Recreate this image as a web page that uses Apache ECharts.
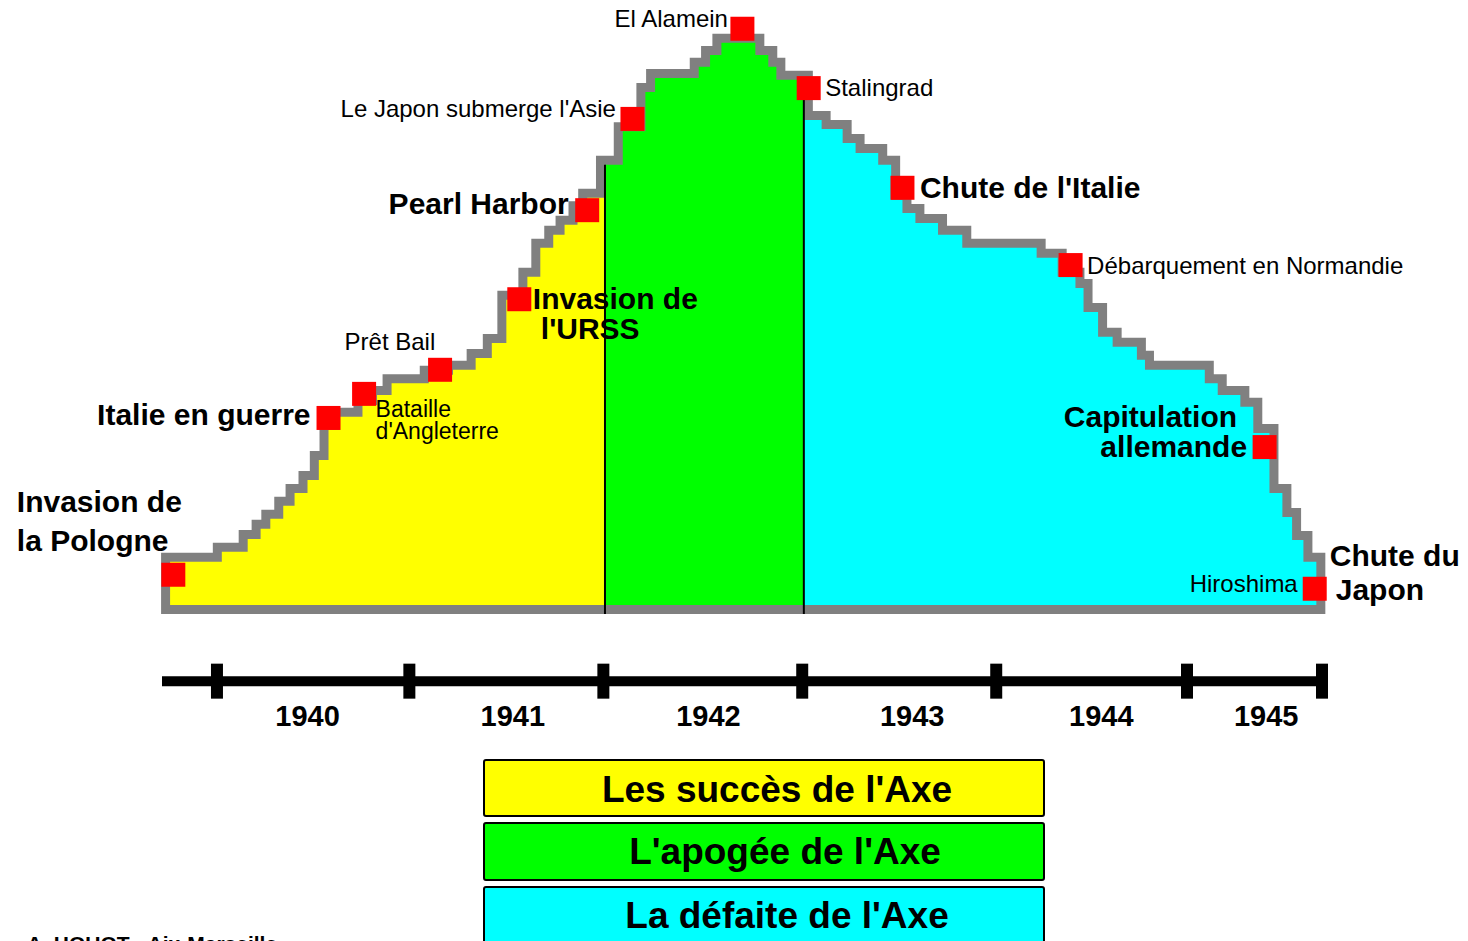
<!DOCTYPE html>
<html><head><meta charset="utf-8">
<script src="https://cdn.jsdelivr.net/npm/echarts@6/dist/echarts.min.js"></script>
<style>html,body{margin:0;padding:0;background:#fff}#c{width:1468px;height:941px}</style>
</head><body><div id="c"></div>
<script>
// ---------- DATA (months counted from January 1940; level = relative Axis power) ----------
const yellowMonths = [-2.9, 0.3, 1.9, 2.7, 3.3, 4.1, 4.8, 5.6, 6.3, 6.9, 7.6, 9.0, 9.9, 10.8, 13.1, 14.6, 16.0, 17.0, 17.9, 19.2, 20.0, 20.8, 21.5, 22.3, 22.9];
const yellowLevels = [7.7, 9.5, 11.8, 13.6, 15.4, 17.7, 20.0, 22.3, 25.9, 31.3, 33.6, 35.7, 37.5, 39.6, 41.1, 42.0, 44.1, 46.8, 54.5, 58.6, 63.8, 66.1, 67.9, 70.5, 72.7];
const greenMonths = [24.0, 25.1, 26.5, 27.1, 29.8, 30.5, 31.2, 33.3, 34.1, 34.6];
const greenLevels = [78.6, 84.6, 91.6, 94.1, 96.1, 98.2, 100.4, 98.2, 96.1, 93.8];
const cyanMonths = [36.3, 37.4, 38.7, 39.5, 40.9, 41.7, 42.4, 43.2, 44.6, 46.1, 50.7, 52.0, 53.1, 53.6, 54.5, 55.4, 56.9, 57.4, 61.1, 61.9, 63.3, 64.1, 65.1, 65.9, 66.5, 67.2];
const cyanLevels = [86.6, 85.0, 82.5, 80.7, 78.6, 72.3, 70.0, 68.2, 66.1, 63.8, 62.0, 58.6, 56.6, 52.3, 47.9, 46.1, 43.8, 42.0, 39.6, 37.5, 35.4, 30.7, 20.0, 15.7, 11.6, 7.7];
const periodEnds = [24.0, 36.3, 68.0];

const eventNames = ["Invasion de\nla Pologne", "Italie en guerre", "Bataille\nd'Angleterre", "Prêt Bail", "Invasion de\nl'URSS", "Pearl Harbor", "Le Japon submerge l'Asie", "El Alamein", "Stalingrad", "Chute de l'Italie", "Débarquement en Normandie", "Capitulation\nallemande", "Hiroshima"];
const eventMonths = [-2.7, 6.9, 9.1, 13.8, 18.7, 22.9, 25.7, 32.5, 36.6, 42.4, 52.8, 64.8, 67.9];
const eventLevels = [5.4, 33.4, 37.7, 42.0, 54.6, 70.5, 86.8, 102.9, 92.3, 74.5, 60.7, 28.2, 2.9];
const endLabel = "Chute du\nJapon";

const yearLabels = ["1940", "1941", "1942", "1943", "1944", "1945"];
const yearLabelMonths = [5.6, 18.3, 30.4, 43.0, 54.7, 64.9];
const yearTickMonths = [0, 11.9, 23.9, 36.2, 48.2, 60.0, 68.35];

const legendLabels = ["Les succès de l'Axe", "L'apogée de l'Axe", "La défaite de l'Axe"];
const creditText = "A. HOUOT - Aix-Marseille";

// ---------- STYLE / LAYOUT ----------
const FONT = "'Liberation Sans', Arial, Helvetica, sans-serif";
const X_MIN = -3.4, X_MAX = 68.35, Y_MIN = -60, Y_MAX = 107.14;
const TIMELINE_LEVEL = -13.6, YEAR_LABEL_LEVEL = -19.8;
const colors = { yellow: '#ffff00', green: '#00ff00', cyan: '#00ffff', red: '#ff0000', gray: '#808080' };
// pads: extra left / right padding per text line (line indentation)
const labelLayout = [
  { align: 'left', dx: -156.5, dy: -54, big: true, lh: 38.5 },
  { align: 'right', dx: -18, dy: -3.5, big: true },
  { align: 'left', dx: 11.5, dy: 26, size: 23, lh: 22 },
  { align: 'left', dx: -95.5, dy: -28 },
  { align: 'left', dx: 13.5, dy: 14.5, big: true, lh: 30, pads: [[0, 0], [8, 0]] },
  { align: 'right', dx: -18.5, dy: -7, big: true },
  { align: 'right', dx: -16.5, dy: -10 },
  { align: 'right', dx: -14.5, dy: -10.5 },
  { align: 'left', dx: 16.5, dy: -0.5 },
  { align: 'left', dx: 17.5, dy: -0.5, big: true },
  { align: 'left', dx: 16.5, dy: 0.5 },
  { align: 'right', dx: -17.5, dy: -16, big: true, lh: 30, pads: [[0, 10], [0, 0]] },
  { align: 'right', dx: -17, dy: -5.5 }
];
const endLabelLayout = { align: 'left', dx: 15, dy: -16.5, big: true, lh: 34, pads: [[0, 0], [6, 0]] };

function stepPoints(months, levels, endMonth) {
  const pts = [];
  for (let i = 0; i < months.length; i++) {
    if (i > 0) pts.push([months[i], levels[i - 1]]);
    pts.push([months[i], levels[i]]);
  }
  pts.push([endMonth, levels[levels.length - 1]]);
  return pts;
}
const yellowPts = stepPoints(yellowMonths, yellowLevels, periodEnds[0]);
const greenPts = stepPoints(greenMonths, greenLevels, periodEnds[1]);
const cyanPts = stepPoints(cyanMonths, cyanLevels, periodEnds[2]);
const outline = [[yellowMonths[0], 0]].concat(yellowPts, greenPts, cyanPts, [[periodEnds[2], 0], [yellowMonths[0], 0]]);

function labelCfg(text, l) {
  const base = {
    fontFamily: FONT, color: '#000',
    fontSize: l.big ? 30 : (l.size || 24), fontWeight: l.big ? 'bold' : 'normal',
    lineHeight: l.lh || (l.big ? 30 : 24)
  };
  const cfg = Object.assign({
    show: true, position: 'inside', align: l.align, verticalAlign: 'middle',
    offset: [l.dx, l.dy], opacity: 1
  }, base);
  if (l.pads) {
    const lines = text.split('\n');
    cfg.rich = {};
    cfg.formatter = lines.map((t, i) => {
      cfg.rich['l' + i] = Object.assign({}, base, { align: l.align, padding: [0, l.pads[i][1], 0, l.pads[i][0]] });
      return '{l' + i + '|' + t + '}';
    }).join('\n');
  } else {
    cfg.formatter = text;
  }
  return cfg;
}
const eventData = eventNames.map((n, i) => ({ name: n, value: [eventMonths[i], eventLevels[i]], label: labelCfg(n, labelLayout[i]) }));
const last = eventNames.length - 1;
const endData = [{ name: endLabel, value: [eventMonths[last], eventLevels[last]], label: labelCfg(endLabel, endLabelLayout) }];

function areaSeries(pts, color) {
  return { type: 'line', z: 3, data: pts, symbol: 'none', showSymbol: false, clip: false, silent: true,
    lineStyle: { width: 0, opacity: 0 }, areaStyle: { color: color, opacity: 1 } };
}

const chart = echarts.init(document.getElementById('c'), null, { renderer: 'svg' });
chart.setOption({
  animation: false,
  backgroundColor: '#fff',
  grid: { left: 162, right: 146, top: 5, bottom: 0, containLabel: false },
  xAxis: { type: 'value', min: X_MIN, max: X_MAX, show: false },
  yAxis: { type: 'value', min: Y_MIN, max: Y_MAX, show: false },
  series: [
    { type: 'line', z: 1, data: outline, symbol: 'none', showSymbol: false, clip: false, silent: true,
      lineStyle: { color: colors.gray, width: 18, join: 'miter', cap: 'square', miterLimit: 4 } },
    areaSeries(yellowPts, colors.yellow),
    areaSeries(greenPts, colors.green),
    areaSeries(cyanPts, colors.cyan),
    { type: 'line', z: 4, data: [[periodEnds[0], -1.6], [periodEnds[0], greenLevels[0]]], symbol: 'none', clip: false, silent: true, lineStyle: { color: '#000', width: 2 } },
    { type: 'line', z: 4, data: [[periodEnds[1], -1.6], [periodEnds[1], greenLevels[greenLevels.length - 1]]], symbol: 'none', clip: false, silent: true, lineStyle: { color: '#000', width: 2 } },
    { type: 'scatter', data: eventData, symbol: 'rect', symbolSize: 24, clip: false, z: 5,
      itemStyle: { color: colors.red, opacity: 1 } },
    { type: 'scatter', data: endData, symbol: 'rect', symbolSize: 1, clip: false, z: 5,
      itemStyle: { color: 'rgba(0,0,0,0)', opacity: 1 } },
    // timeline
    { type: 'line', z: 4, data: [[X_MIN, TIMELINE_LEVEL], [X_MAX, TIMELINE_LEVEL]], symbol: 'none', clip: false, silent: true,
      lineStyle: { color: '#000', width: 10, cap: 'butt' } },
    { type: 'scatter', z: 5, data: yearTickMonths.map(m => [m, TIMELINE_LEVEL]), symbol: 'rect', symbolSize: [12, 35], clip: false, silent: true,
      itemStyle: { color: '#000', opacity: 1 } },
    { type: 'scatter', z: 5, data: yearLabels.map((y, i) => ({ name: y, value: [yearLabelMonths[i], YEAR_LABEL_LEVEL] })), symbol: 'rect', symbolSize: 1, clip: false, silent: true,
      itemStyle: { color: 'rgba(0,0,0,0)', opacity: 1 },
      label: { show: true, position: 'inside', formatter: '{b}', color: '#000', opacity: 1, fontFamily: FONT, fontSize: 29, fontWeight: 'bold', align: 'center', verticalAlign: 'middle' } }
  ],
  graphic: [
    { type: 'rect', shape: { x: 484, y: 760, width: 560, height: 56, r: 2 }, style: { fill: colors.yellow, stroke: '#000', lineWidth: 2 } },
    { type: 'rect', shape: { x: 484, y: 823, width: 560, height: 57, r: 2 }, style: { fill: colors.green, stroke: '#000', lineWidth: 2 } },
    { type: 'rect', shape: { x: 484, y: 887, width: 560, height: 70, r: 2 }, style: { fill: colors.cyan, stroke: '#000', lineWidth: 2 } },
    { type: 'text', x: 777, y: 789, style: { text: legendLabels[0], fill: '#000', fontFamily: FONT, fontSize: 37, fontWeight: 'bold', align: 'center', verticalAlign: 'middle' } },
    { type: 'text', x: 785, y: 851, style: { text: legendLabels[1], fill: '#000', fontFamily: FONT, fontSize: 37, fontWeight: 'bold', align: 'center', verticalAlign: 'middle' } },
    { type: 'text', x: 787, y: 915, style: { text: legendLabels[2], fill: '#000', fontFamily: FONT, fontSize: 37, fontWeight: 'bold', align: 'center', verticalAlign: 'middle' } },
    { type: 'text', x: 27, y: 933, style: { text: creditText, fill: '#000', fontFamily: FONT, fontSize: 21, fontWeight: 'bold', align: 'left', verticalAlign: 'top' } }
  ]
});
</script></body></html>
